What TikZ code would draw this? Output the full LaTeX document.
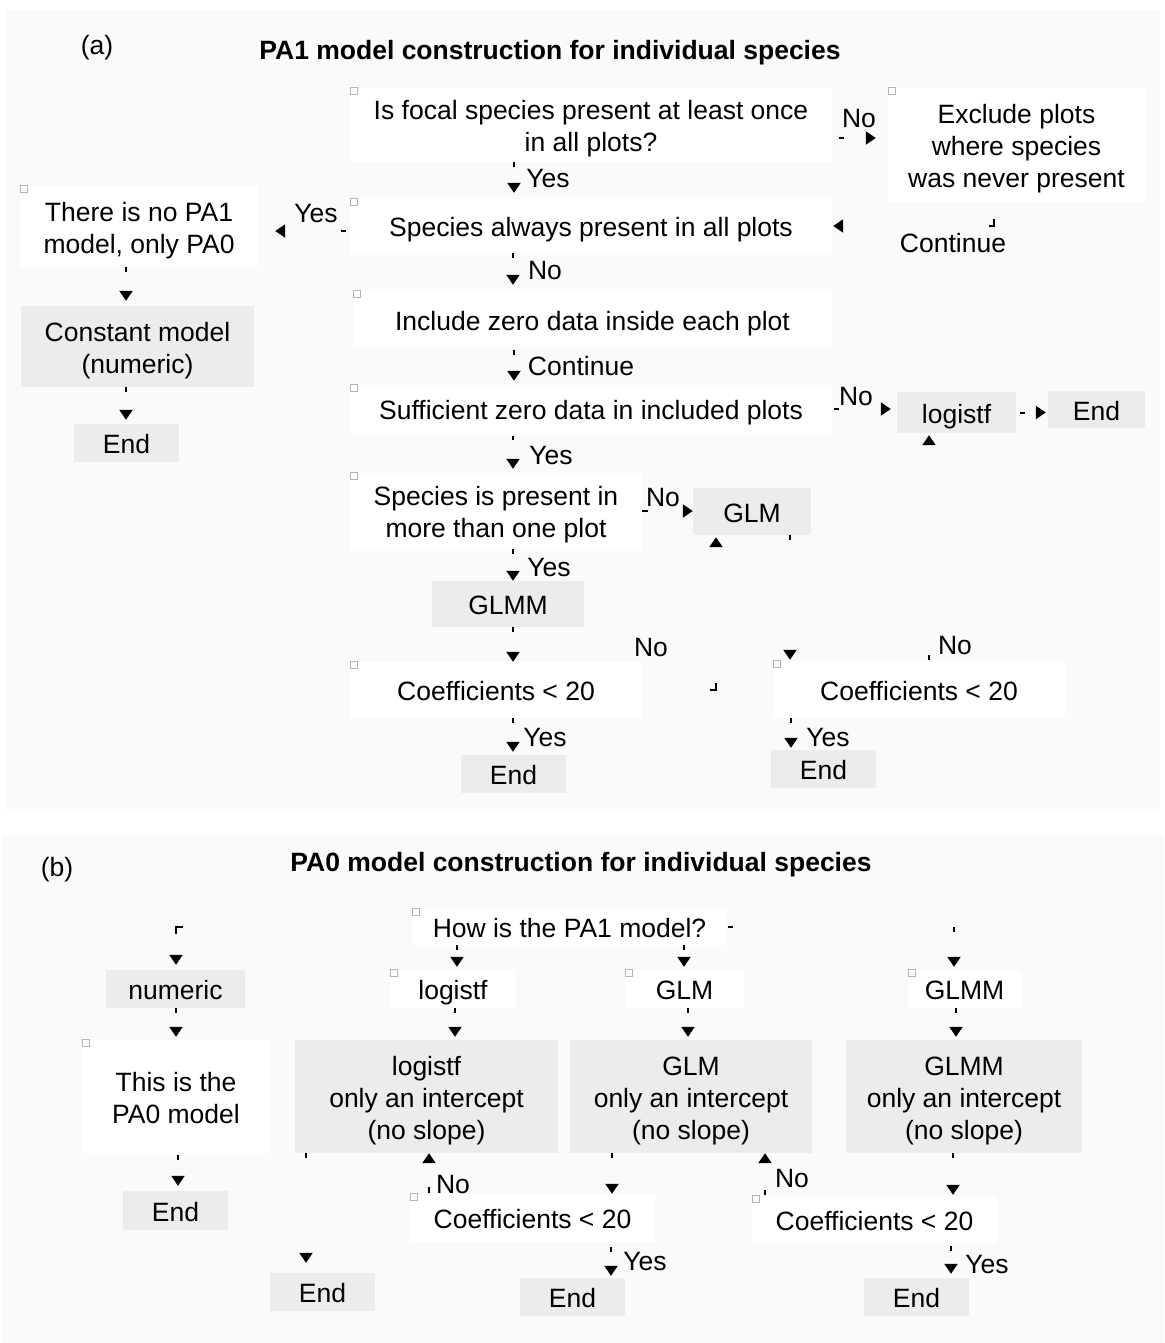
\documentclass[tikz,border=0pt]{standalone}
\usepackage{fontspec}
\setmainfont{Liberation Sans}
\usetikzlibrary{arrows.meta}
\definecolor{panelc}{HTML}{FAFAFA}
\definecolor{boxg}{HTML}{ECECEC}
\definecolor{faintc}{HTML}{F8F8F8}
\definecolor{iconc}{HTML}{B4B4B4}
\newcommand\mkbox[7]{\node[#1, minimum width={#5-#3}, minimum height={#6-#4}] (#2) at ({(#3+#5)/2},{(#4+#6)/2}) {\rule{0pt}{27pt}#7\rule[-6pt]{0pt}{6pt}};}
\newcommand\icon[1]{\draw[iconsty] ([shift={(0.5,-0.5)}]#1.north west) rectangle ++(7,7);}
\newcommand\cn[2][]{\draw[faintln] #2; \draw[blkln,#1] #2;}
\begin{document}
\begin{tikzpicture}[x=1pt,y=-1pt, font=\fontsize{26.5}{32}\selectfont,
  base/.style={inner sep=0pt, align=center, text=black},
  wbox/.style={base, fill=white},
  gbox/.style={base, fill=boxg},
  lbl/.style={inner sep=0pt, text=black, text height=19pt, text depth=0pt},
  ttl/.style={lbl, font=\fontsize{26.5}{32}\selectfont\bfseries},
  faintln/.style={draw=faintc, line width=1pt},
  blkln/.style={draw=black, line width=2pt, dash pattern=on 5pt off 3000pt,
     -{Triangle[length=10pt,width=13pt,color=black]}},
  iconsty/.style={draw=iconc, line width=1.3pt, fill=white}]
\useasboundingbox (0,0) rectangle (1164,1343);
\fill[white] (0,0) rectangle (1164,1343);
\fill[panelc] (6,10) rectangle (1160,809);
\fill[panelc] (2,835) rectangle (1164,1343);

% ---------------- panel (a)
\node[lbl] (la) at (97,45) {(a)};
\node[ttl] (ta) at (550,50) {PA1 model construction for individual species};

\mkbox{wbox}{q1}{350}{88}{832}{162}{Is focal species present at least once\\in all plots?}
\mkbox{wbox}{excl}{888}{88}{1145}{202}{Exclude plots\\where species\\was never present}
\mkbox{wbox}{q2}{350}{199}{832}{253}{Species always present in all plots}
\mkbox{wbox}{nopa1}{20}{186}{258}{267}{There is no PA1\\model, only PA0}
\mkbox{gbox}{const}{21}{306}{254}{387}{Constant model\\(numeric)}
\mkbox{gbox}{enda1}{74}{424}{179}{462}{End}
\mkbox{wbox}{incl}{353}{291}{832}{348}{Include zero data inside each plot}
\mkbox{wbox}{q3}{350}{385}{832}{433}{Sufficient zero data in included plots}
\mkbox{gbox}{logA}{897}{392}{1016}{433}{logistf}
\mkbox{gbox}{enda2}{1048}{391}{1145}{428}{End}
\mkbox{wbox}{q4}{350}{473}{642}{549}{Species is present in\\more than one plot}
\mkbox{gbox}{glmA}{693}{488}{811}{535}{GLM}
\mkbox{gbox}{glmmA}{432}{581}{584}{627}{GLMM}
\mkbox{wbox}{coefL}{350}{662}{642}{718}{Coefficients < 20}
\mkbox{gbox}{endL}{461}{755}{566}{793}{End}
\mkbox{wbox}{coefR}{773}{661}{1065}{718}{Coefficients < 20}
\mkbox{gbox}{endR}{771}{750}{876}{788}{End}

\foreach \n in {q1,excl,q2,nopa1,incl,q3,q4,coefL,coefR} {\icon{\n}}

\cn[shorten >=6pt]{(514,0 |- q1.south) -- (514,0 |- q2.north)}
\cn[shorten >=12pt, dash pattern=on 0pt off 7pt on 5pt off 3000pt]{([yshift=-13pt]q1.east) -- ([yshift=-13pt]q1.east -| excl.west)}
\cn[shorten >=1pt, dash pattern=on 0pt off 17pt on 12pt off 3000pt]{(994,0 |- excl.south) -- (994,0 |- q2.east) -- (q2.east)}
\cn[shorten >=17pt, dash pattern=on 0pt off 4pt on 5pt off 3000pt]{([yshift=-5pt]q2.west) -- ([yshift=-5pt]q2.west -| nopa1.east)}
\cn[shorten >=5pt]{(126,0 |- nopa1.south) -- (126,0 |- const.north)}
\cn[shorten >=4pt]{(126,0 |- const.south) -- (126,0 |- enda1.north)}
\cn[shorten >=6pt]{(513,0 |- q2.south) -- (513,0 |- incl.north)}
\cn[shorten >=4pt, dash pattern=on 0pt off 2pt on 5pt off 3000pt]{(514,0 |- incl.south) -- (514,0 |- q3.north)}
\cn[shorten >=6pt, dash pattern=on 0pt off 2pt on 5pt off 3000pt]{(q3.east) -- (q3.east -| logA.west)}
\cn[shorten >=2pt, dash pattern=on 0pt off 4pt on 5pt off 3000pt]{(logA.east) -- (logA.east -| enda2.west)}
\cn[shorten >=4pt, dash pattern=on 0pt off 3pt on 4pt off 3000pt]{(513,0 |- q3.south) -- (513,0 |- q4.north)}
\cn[shorten >=0pt, dash pattern=on 6pt off 3000pt]{(q4.east) -- (q4.east -| glmA.west)}
\cn[shorten >=0pt]{(513,0 |- q4.south) -- (513,0 |- glmmA.north)}
\cn[shorten >=0pt]{(513,0 |- glmmA.south) -- (513,0 |- coefL.north)}
\cn[shorten >=3pt]{(513,0 |- coefL.south) -- (513,0 |- endL.north)}
\cn[shorten >=2pt, dash pattern=on 0pt off 68pt on 13pt off 3000pt]{(coefL.east) -- (716,0 |- coefL.east) -- (716,0 |- glmA.south)}
\cn[shorten >=1pt]{(790,0 |- glmA.south) -- (790,0 |- coefR.north)}
\cn[shorten >=2pt]{(791,0 |- coefR.south) -- (791,0 |- endR.north)}
\cn[shorten >=2pt, dash pattern=on 0pt off 1pt on 5pt off 3000pt]{(929,0 |- coefR.north) -- (929,0 |- logA.south)}

\node[lbl] (y1) at (548,178) {Yes};
\node[lbl] (n1) at (859,118) {No};
\node[lbl] (k1) at (953,243) {Continue};
\node[lbl] (y2) at (316,213) {Yes};
\node[lbl] (n2) at (545,270) {No};
\node[lbl] (k2) at (581,366) {Continue};
\node[lbl] (n3) at (856,396) {No};
\node[lbl] (y3) at (551,455) {Yes};
\node[lbl] (n4) at (663,497) {No};
\node[lbl] (y4) at (549,567) {Yes};
\node[lbl] (y5) at (545,737) {Yes};
\node[lbl] (n5) at (651,647) {No};
\node[lbl] (y6) at (828,737) {Yes};
\node[lbl] (n6) at (955,645) {No};

% ---------------- panel (b)
\node[lbl] (lb) at (57,867) {(b)};
\node[ttl] (tb) at (581,862) {PA0 model construction for individual species};

\mkbox{wbox}{howis}{412}{909}{727}{945}{How is the PA1 model?}
\mkbox{gbox}{numeric}{106}{970}{245}{1008}{numeric}
\mkbox{wbox}{logB}{390}{970}{516}{1008}{logistf}
\mkbox{wbox}{glmB}{625}{970}{744}{1008}{GLM}
\mkbox{wbox}{glmmB}{908}{970}{1021}{1008}{GLMM}
\mkbox{wbox}{pa0}{82}{1040}{270}{1153}{This is the\\PA0 model}
\mkbox{gbox}{logInt}{295}{1040}{558}{1153}{logistf\\only an intercept\\(no slope)}
\mkbox{gbox}{glmInt}{570}{1040}{812}{1153}{GLM\\only an intercept\\(no slope)}
\mkbox{gbox}{glmmInt}{846}{1040}{1082}{1153}{GLMM\\only an intercept\\(no slope)}
\mkbox{gbox}{endP}{123}{1191}{228}{1230}{End}
\mkbox{gbox}{endB1}{270}{1273}{375}{1311}{End}
\mkbox{wbox}{coefB1}{410}{1194}{655}{1242}{Coefficients < 20}
\mkbox{gbox}{endB2}{520}{1278}{625}{1316}{End}
\mkbox{wbox}{coefB2}{752}{1196}{997}{1243}{Coefficients < 20}
\mkbox{gbox}{endB3}{864}{1278}{969}{1316}{End}

\foreach \n in {howis,logB,glmB,glmmB,pa0,coefB1,coefB2} {\icon{\n}}

\cn[shorten >=5pt, dash pattern=on 0pt off 229pt on 14pt off 3000pt]{(howis.west) -- (176,0 |- howis.west) -- (176,0 |- numeric.north)}
\cn[shorten >=3pt]{(457,0 |- howis.south) -- (457,0 |- logB.north)}
\cn[shorten >=3pt]{(684,0 |- howis.south) -- (684,0 |- glmB.north)}
\cn[shorten >=3pt, dash pattern=on 0pt off 1pt on 5pt off 221pt on 5pt off 3000pt]{(howis.east) -- (954,0 |- howis.east) -- (954,0 |- glmmB.north)}
\cn[shorten >=3pt]{(176,0 |- numeric.south) -- (176,0 |- pa0.north)}
\cn[shorten >=3pt]{(455,0 |- logB.south) -- (455,0 |- logInt.north)}
\cn[shorten >=3pt]{(688,0 |- glmB.south) -- (688,0 |- glmInt.north)}
\cn[shorten >=3pt]{(956,0 |- glmmB.south) -- (956,0 |- glmmInt.north)}
\cn[shorten >=5pt, dash pattern=on 0pt off 2pt on 5pt off 3000pt]{(178,0 |- pa0.south) -- (178,0 |- endP.north)}
\cn[shorten >=10pt]{(306,0 |- logInt.south) -- (306,0 |- endB1.north)}
\cn[shorten >=0pt]{(612,0 |- glmInt.south) -- (612,0 |- coefB1.north)}
\cn[shorten >=0pt, dash pattern=on 0pt off 1pt on 6pt off 3000pt]{(429,0 |- coefB1.north) -- (429,0 |- logInt.south)}
\cn[shorten >=2pt, dash pattern=on 0pt off 5pt on 5pt off 3000pt]{(611,0 |- coefB1.south) -- (611,0 |- endB2.north)}
\cn[shorten >=1pt]{(953,0 |- glmmInt.south) -- (953,0 |- coefB2.north)}
\cn[shorten >=0pt, dash pattern=on 0pt off 1pt on 5pt off 3000pt]{(765,0 |- coefB2.north) -- (765,0 |- glmInt.south)}
\cn[shorten >=4pt, dash pattern=on 0pt off 3pt on 5pt off 3000pt]{(951,0 |- coefB2.south) -- (951,0 |- endB3.north)}

\node[lbl] (n7) at (453,1184) {No};
\node[lbl] (y7) at (645,1261) {Yes};
\node[lbl] (n8) at (792,1178) {No};
\node[lbl] (y8) at (987,1264) {Yes};
\end{tikzpicture}
\end{document}
